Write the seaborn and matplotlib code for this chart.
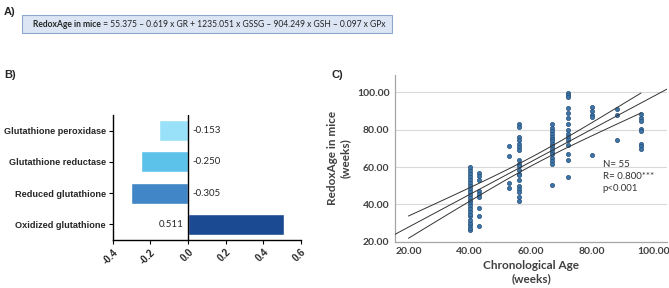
import numpy as np
import pandas as pd
import matplotlib
matplotlib.use("Agg")
import matplotlib.pyplot as plt
from matplotlib.patches import Rectangle
import seaborn as sns

# ---------------- data ----------------
equation_lead = "RedoxAge in mice"
equation_rest = " = 55.375 \u2013 0.619 x GR + 1235.051 x GSSG \u2013 904.249 x GSH \u2013 0.097 x GPx"

bar_labels = ["Glutathione peroxidase", "Glutathione reductase",
              "Reduced glutathione", "Oxidized glutathione"]
bar_values = [-0.153, -0.250, -0.305, 0.511]
bar_colors = ["#98e1f8", "#5dc2ea", "#4186c6", "#1b4a92"]

ages = [40, 43, 53, 56, 67, 72, 80, 88, 96]
redox_40 = [26.0, 27.3, 28.9, 30.2, 31.8, 33.5, 35.1, 36.4, 38.0, 39.6, 41.2, 42.5,
            44.1, 45.8, 47.0, 48.7, 50.3, 51.9, 53.4, 55.0, 56.7, 58.2, 59.8]
redox_43 = [56.6, 55.0, 53.2, 47.4, 45.6, 43.8, 37.9, 33.6, 28.2]
redox_53 = [71.0, 65.8, 51.2, 48.8]
redox_56 = [83.2, 81.5, 76.0, 74.3, 72.5, 70.7, 69.0, 63.6, 61.8, 60.3, 58.2,
            56.4, 55.5, 53.1, 50.0, 48.3, 46.5, 43.8, 42.0]
redox_67 = [83.1, 80.9, 79.1, 77.7, 76.3, 75.0, 73.7, 72.3, 71.0, 69.6, 68.1,
            66.9, 65.1, 63.3, 61.6, 50.6]
redox_72 = [99.8, 98.5, 97.3, 91.4, 88.7, 86.0, 83.3, 79.7, 77.9, 76.1, 74.3,
            71.6, 67.1, 63.5, 54.9]
redox_80 = [92.0, 90.0, 88.0, 87.0, 66.2]
redox_88 = [91.2, 87.7, 74.4]
redox_96 = [88.6, 86.5, 84.7, 80.6, 79.4, 72.5, 71.1, 69.8]
# regression line (RedoxAge = intercept + slope * age)
fit_intercept = 10.3
fit_slope = 0.875
stats_text = "N= 55\nR= 0.800***\np<0.001"

# ---------------- figure ----------------
sns.set_theme(style="white")
plt.rcParams["font.family"] = ["Lato", "DejaVu Sans"]
W, H = 669, 288
fig = plt.figure(figsize=(W / 100, H / 100), dpi=100)

def fx(px):
    return px / W

def fy(py):
    return 1 - py / H

# ----- panel A -----
fig.text(fx(4), fy(12), "A)", fontsize=8, fontweight="bold", va="center",
         family=["Liberation Sans"])
fig.patches.append(Rectangle((fx(22), fy(33)), fx(370), 18 / H, transform=fig.transFigure,
                             facecolor="#dbe5f4", edgecolor="#8ea7cf", linewidth=0.8))
t1 = fig.text(fx(33), fy(24.5), equation_lead, fontsize=6.15, fontweight="bold",
              va="center", ha="left", family=["Lato"])
fig.canvas.draw()
bb = t1.get_window_extent(renderer=fig.canvas.get_renderer())
fig.text(bb.x1 / fig.bbox.width, fy(24.5), equation_rest, fontsize=6.15,
         va="center", ha="left", family=["Lato"])

# ----- panel B -----
fig.text(fx(4), fy(75), "B)", fontsize=8, fontweight="bold", va="center",
         family=["Liberation Sans"])
axb = fig.add_axes([fx(112.7), fy(240), fx(301 - 112.7), (240 - 115) / H])
dfb = pd.DataFrame({"label": bar_labels, "value": bar_values})
sns.barplot(data=dfb, y="label", x="value", hue="label", palette=bar_colors,
            order=bar_labels, orient="h", width=0.67, legend=False, ax=axb,
            saturation=1)
axb.set_xlim(-0.4, 0.6)
axb.set_xticks([-0.4, -0.2, 0.0, 0.2, 0.4, 0.6])
axb.set_xticklabels(["-0.4", "-0.2", "0.0", "0.2", "0.4", "0.6"], rotation=45,
                    ha="right", va="top", rotation_mode="anchor",
                    fontsize=7, fontweight="bold", family=["Liberation Sans"])
axb.set_yticks(range(len(bar_labels)))
axb.set_yticklabels(bar_labels, fontsize=6.6, fontweight="bold", family=["Liberation Sans"])
axb.set_xlabel("")
axb.set_ylabel("")
axb.axvline(0, color="black", linewidth=1.0)
for s in ["top", "right"]:
    axb.spines[s].set_visible(False)
for s in ["left", "bottom"]:
    axb.spines[s].set_color("black")
    axb.spines[s].set_linewidth(1.0)
axb.tick_params(axis="both", which="both", direction="out", length=3, width=0.8,
                color="black", left=True, bottom=True, pad=2)
for i, v in enumerate(bar_values):
    if v < 0:
        axb.text(0.025, i, f"{v:.3f}", ha="left", va="center", fontsize=7)
    else:
        axb.text(-0.025, i, f"{v:.3f}", ha="right", va="center", fontsize=7)

# ----- panel C -----
fig.text(fx(331), fy(75), "C)", fontsize=8, fontweight="bold", va="center",
         family=["Liberation Sans"])
axc = fig.add_axes([fx(395), fy(241.7), fx(667 - 395), (241.7 - 75) / H])
groups = [redox_40, redox_43, redox_53, redox_56, redox_67, redox_72,
          redox_80, redox_88, redox_96]
xs, ys = [], []
for a, g in zip(ages, groups):
    xs += [a] * len(g)
    ys += g
dfc = pd.DataFrame({"age": xs, "redox": ys})
axc.set_xlim(15.6, 104.5)
axc.set_ylim(20, 109.3)
axc.set_yticks([20, 40, 60, 80, 100])
axc.yaxis.grid(True, color="#d9d9d9", linewidth=0.8)
axc.set_axisbelow(True)
sns.scatterplot(data=dfc, x="age", y="redox", ax=axc, s=9, color="#3d75a8",
                edgecolor="#254f78", linewidth=0.5, zorder=3)

# regression line + 95% CI of the mean (spread taken from the data's own fit)
x = dfc["age"].to_numpy(float)
y = dfc["redox"].to_numpy(float)
n = len(x)
b1, b0 = np.polyfit(x, y, 1)
resid = y - (b0 + b1 * x)
s_err = np.sqrt(np.sum(resid ** 2) / (n - 2))
xm = x.mean()
sxx = np.sum((x - xm) ** 2)
xl = np.linspace(15.6, 104.5, 100)
axc.plot(xl, fit_intercept + fit_slope * xl, color="#333333", linewidth=0.7, zorder=4)
xc = np.linspace(20, 96, 100)
half = 1.98 * s_err * np.sqrt(1 / n + (xc - xm) ** 2 / sxx)
axc.plot(xc, fit_intercept + fit_slope * xc + half, color="#333333", linewidth=0.7, zorder=4)
axc.plot(xc, fit_intercept + fit_slope * xc - half, color="#333333", linewidth=0.7, zorder=4)

axc.set_xticks([20, 40, 60, 80, 100])
axc.set_xticklabels([f"{v:.2f}" for v in [20, 40, 60, 80, 100]],
                    fontsize=7.5, fontweight="bold", color="#404040")
axc.set_yticklabels([f"{v:.2f}" for v in [20, 40, 60, 80, 100]],
                    fontsize=7.5, fontweight="bold", color="#404040")
axc.tick_params(axis="both", length=0, pad=4)
axc.set_xlabel("Chronological Age\n(weeks)", fontsize=8.5, fontweight="bold",
               color="#404040", labelpad=3, linespacing=1.2)
axc.set_ylabel("RedoxAge in mice\n(weeks)", fontsize=8.5, fontweight="bold",
               color="#404040", labelpad=4, linespacing=1.2)
for s in ["top", "right"]:
    axc.spines[s].set_visible(False)
for s in ["left", "bottom"]:
    axc.spines[s].set_color("#a6a6a6")
    axc.spines[s].set_linewidth(0.9)
axc.text(83.5, 64, stats_text, fontsize=7, va="top", ha="left", color="#333333",
         linespacing=1.45)

fig.savefig("out.png", dpi=100)
print(half[0], half[-1])
